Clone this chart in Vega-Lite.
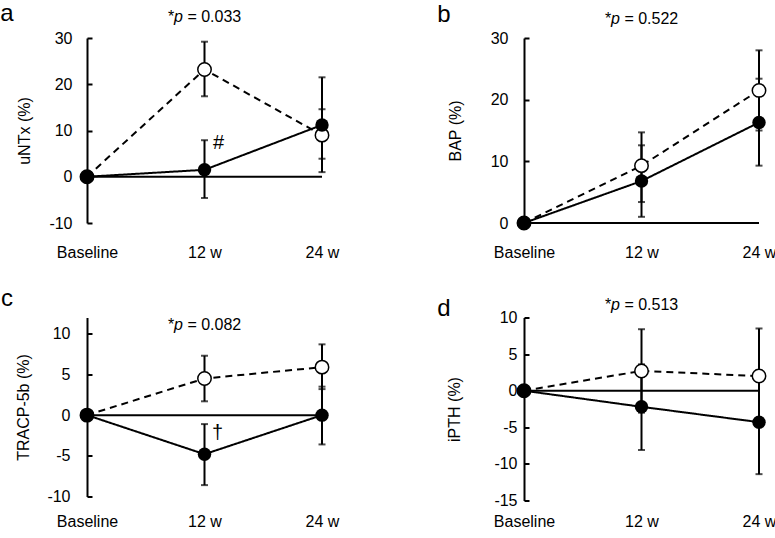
{
"$schema": "https://vega.github.io/schema/vega-lite/v6.json",
"padding": {"top": 2, "left": 0, "right": 0, "bottom": 0},
"config": {
 "font": "Liberation Sans",
 "view": {"stroke": null},
 "axis": {"grid": false, "labelOverlap": false, "labelSeparation": 0, "labelFont": "Liberation Sans", "labelFontSize": 16, "labelColor": "black", "titleFont": "Liberation Sans", "titleFontSize": 16, "titleFontWeight": "normal", "titleColor": "black"},
 "axisY": {"domainColor": "black", "domainWidth": 2, "tickColor": "black", "tickWidth": 2, "tickSize": -5, "labelOverlap": false, "labelExpr": "replace(datum.label, '\u2212', '-')"},
 "axisX": {"domain": false, "ticks": false, "labelAngle": 0},
 "text": {"font": "Liberation Sans", "fontSize": 16, "color": "black"}
},
"datasets": {
 "main": [
  {"panel":"a","group":"open","time":"Baseline","t":0,"value":0,"lo":null,"hi":null},
  {"panel":"a","group":"open","time":"12 w","t":12,"value":23.2,"lo":17.4,"hi":29.2},
  {"panel":"a","group":"open","time":"24 w","t":24,"value":9.0,"lo":3.9,"hi":14.6},
  {"panel":"a","group":"closed","time":"Baseline","t":0,"value":0,"lo":null,"hi":null},
  {"panel":"a","group":"closed","time":"12 w","t":12,"value":1.5,"lo":-4.6,"hi":7.9},
  {"panel":"a","group":"closed","time":"24 w","t":24,"value":11.2,"lo":1.0,"hi":21.5},
  {"panel":"b","group":"open","time":"Baseline","t":0,"value":0,"lo":null,"hi":null},
  {"panel":"b","group":"open","time":"12 w","t":12,"value":9.3,"lo":3.4,"hi":12.6},
  {"panel":"b","group":"open","time":"24 w","t":24,"value":21.5,"lo":15.0,"hi":28.0},
  {"panel":"b","group":"closed","time":"Baseline","t":0,"value":0,"lo":null,"hi":null},
  {"panel":"b","group":"closed","time":"12 w","t":12,"value":6.8,"lo":1.0,"hi":14.7},
  {"panel":"b","group":"closed","time":"24 w","t":24,"value":16.3,"lo":9.3,"hi":23.4},
  {"panel":"c","group":"open","time":"Baseline","t":0,"value":0,"lo":null,"hi":null},
  {"panel":"c","group":"open","time":"12 w","t":12,"value":4.5,"lo":1.7,"hi":7.3},
  {"panel":"c","group":"open","time":"24 w","t":24,"value":5.9,"lo":3.2,"hi":8.7},
  {"panel":"c","group":"closed","time":"Baseline","t":0,"value":0,"lo":null,"hi":null},
  {"panel":"c","group":"closed","time":"12 w","t":12,"value":-4.8,"lo":-8.6,"hi":-1.1},
  {"panel":"c","group":"closed","time":"24 w","t":24,"value":0,"lo":-3.6,"hi":3.5},
  {"panel":"d","group":"open","time":"Baseline","t":0,"value":0,"lo":null,"hi":null},
  {"panel":"d","group":"open","time":"12 w","t":12,"value":2.7,"lo":-3.0,"hi":8.4},
  {"panel":"d","group":"open","time":"24 w","t":24,"value":2.0,"lo":-4.5,"hi":8.5},
  {"panel":"d","group":"closed","time":"Baseline","t":0,"value":0,"lo":null,"hi":null},
  {"panel":"d","group":"closed","time":"12 w","t":12,"value":-2.2,"lo":-8.1,"hi":3.6},
  {"panel":"d","group":"closed","time":"24 w","t":24,"value":-4.3,"lo":-11.4,"hi":2.8}
 ],
 "pvals": [
  {"panel":"a","time":"12 w","y":34.5,"pre":"*","ital":"p","post":"= 0.033"},
  {"panel":"b","time":"12 w","y":33.1,"pre":"*","ital":"p","post":"= 0.522"},
  {"panel":"c","time":"12 w","y":11.1,"pre":"*","ital":"p","post":"= 0.082"},
  {"panel":"d","time":"12 w","y":11.7,"pre":"*","ital":"p","post":"= 0.513"}
 ],
 "letters": [
  {"panel":"a","time":"Baseline","y":33.6,"letter":"a"},
  {"panel":"b","time":"Baseline","y":32.65,"letter":"b"},
  {"panel":"c","time":"Baseline","y":13.45,"letter":"c"},
  {"panel":"d","time":"Baseline","y":10.2,"letter":"d"}
 ],
 "symbols": [
  {"panel":"a","time":"12 w","y":7.2,"sym":"#"},
  {"panel":"c","time":"12 w","y":-2.15,"sym":"†"}
 ]
},
"columns": 2,
"spacing": {"row": 26.5, "column": 98},
"concat": [
 {
  "width": 235, "height": 185,
  "layer": [
   {"data":{"values":[{"z":0}]},"mark":{"type":"rule","color":"black","strokeWidth":2},
    "encoding":{"y":{"field":"z","type":"quantitative","scale":{"domain":[-10,30],"nice":false,"zero":false},"axis":{"values":[-10,0,10,20,30],"labelOverlap":false,"labelPadding":20,"titlePadding":16},"title":"uNTx  (%)"}}},
   {"data":{"name":"main"},"transform":[{"filter":"datum.panel=='a' && datum.lo!=null"}],"mark":{"type":"rule","color":"black","strokeWidth":2},
    "encoding":{"x":{"field":"time","type":"ordinal","scale":{"type":"point","padding":0,"domain":["Baseline","12 w","24 w"]},"axis":{"labelPadding":21},"title":null},
     "y":{"field":"lo","type":"quantitative","axis":{"values":[-10,0,10,20,30],"labelOverlap":false,"labelPadding":20,"titlePadding":16},"title":"uNTx  (%)"},"y2":{"field":"hi"}}},
   {"data":{"name":"main"},"transform":[{"filter":"datum.panel=='a' && datum.lo!=null"}],"mark":{"type":"tick","color":"black","thickness":2,"size":7},
    "encoding":{"x":{"field":"time","type":"ordinal","title":null},"y":{"field":"lo","type":"quantitative","axis":{"values":[-10,0,10,20,30],"labelOverlap":false,"labelPadding":20,"titlePadding":16},"title":"uNTx  (%)"}}},
   {"data":{"name":"main"},"transform":[{"filter":"datum.panel=='a' && datum.lo!=null"}],"mark":{"type":"tick","color":"black","thickness":2,"size":7},
    "encoding":{"x":{"field":"time","type":"ordinal","title":null},"y":{"field":"hi","type":"quantitative","axis":{"values":[-10,0,10,20,30],"labelOverlap":false,"labelPadding":20,"titlePadding":16},"title":"uNTx  (%)"}}},
   {"data":{"name":"main"},"transform":[{"filter":"datum.panel=='a'"}],"mark":{"type":"line","color":"black","strokeWidth":2},
    "encoding":{"x":{"field":"time","type":"ordinal","title":null},"y":{"field":"value","type":"quantitative","axis":{"values":[-10,0,10,20,30],"labelOverlap":false,"labelPadding":20,"titlePadding":16},"title":"uNTx  (%)"},"detail":{"field":"group"},"order":{"field":"t"},
     "strokeDash":{"field":"group","type":"nominal","scale":{"domain":["open","closed"],"range":[[7,5],[1,0]]},"legend":null}}},
   {"data":{"name":"main"},"transform":[{"filter":"datum.panel=='a' && datum.group=='open'"}],"mark":{"type":"circle","fill":"white","stroke":"black","strokeWidth":1.5,"size":180,"opacity":1},
    "encoding":{"x":{"field":"time","type":"ordinal","title":null},"y":{"field":"value","type":"quantitative","axis":{"values":[-10,0,10,20,30],"labelOverlap":false,"labelPadding":20,"titlePadding":16},"title":"uNTx  (%)"}}},
   {"data":{"name":"main"},"transform":[{"filter":"datum.panel=='a' && datum.group=='closed'"}],"mark":{"type":"circle","fill":"black","size":180,"opacity":1},
    "encoding":{"x":{"field":"time","type":"ordinal","title":null},"y":{"field":"value","type":"quantitative","axis":{"values":[-10,0,10,20,30],"labelOverlap":false,"labelPadding":20,"titlePadding":16},"title":"uNTx  (%)"}}},
   {"data":{"name":"pvals"},"transform":[{"filter":"datum.panel=='a'"}],"mark":{"type":"text","align":"left","baseline":"middle","dx":-36.6},
    "encoding":{"x":{"field":"time","type":"ordinal","title":null},"y":{"field":"y","type":"quantitative","axis":{"values":[-10,0,10,20,30],"labelOverlap":false,"labelPadding":20,"titlePadding":16},"title":"uNTx  (%)"},"text":{"field":"pre"}}},
   {"data":{"name":"pvals"},"transform":[{"filter":"datum.panel=='a'"}],"mark":{"type":"text","align":"left","baseline":"middle","dx":-30.4,"fontStyle":"italic"},
    "encoding":{"x":{"field":"time","type":"ordinal","title":null},"y":{"field":"y","type":"quantitative","axis":{"values":[-10,0,10,20,30],"labelOverlap":false,"labelPadding":20,"titlePadding":16},"title":"uNTx  (%)"},"text":{"field":"ital"}}},
   {"data":{"name":"pvals"},"transform":[{"filter":"datum.panel=='a'"}],"mark":{"type":"text","align":"left","baseline":"middle","dx":-17.1},
    "encoding":{"x":{"field":"time","type":"ordinal","title":null},"y":{"field":"y","type":"quantitative","axis":{"values":[-10,0,10,20,30],"labelOverlap":false,"labelPadding":20,"titlePadding":16},"title":"uNTx  (%)"},"text":{"field":"post"}}},
   {"data":{"name":"letters"},"transform":[{"filter":"datum.panel=='a'"}],"mark":{"type":"text","align":"center","baseline":"alphabetic","dx":-80,"fontSize":24},
    "encoding":{"x":{"field":"time","type":"ordinal","title":null},"y":{"field":"y","type":"quantitative","axis":{"values":[-10,0,10,20,30],"labelOverlap":false,"labelPadding":20,"titlePadding":16},"title":"uNTx  (%)"},"text":{"field":"letter"}}},
   {"data":{"name":"symbols"},"transform":[{"filter":"datum.panel=='a'"}],"mark":{"type":"text","align":"center","baseline":"middle","dx":14,"fontSize":20},
    "encoding":{"x":{"field":"time","type":"ordinal","title":null},"y":{"field":"y","type":"quantitative","axis":{"values":[-10,0,10,20,30],"labelOverlap":false,"labelPadding":20,"titlePadding":16},"title":"uNTx  (%)"},"text":{"field":"sym"}}}
  ]
 },
 {
  "width": 235, "height": 185,
  "layer": [
   {"data":{"values":[{"z":0}]},"mark":{"type":"rule","color":"black","strokeWidth":2},
    "encoding":{"y":{"field":"z","type":"quantitative","scale":{"domain":[0,30],"nice":false,"zero":false},"axis":{"values":[0,10,20,30],"labelOverlap":false,"labelPadding":21,"titlePadding":27},"title":"BAP (%)"}}},
   {"data":{"name":"main"},"transform":[{"filter":"datum.panel=='b' && datum.lo!=null"}],"mark":{"type":"rule","color":"black","strokeWidth":2},
    "encoding":{"x":{"field":"time","type":"ordinal","scale":{"type":"point","padding":0,"domain":["Baseline","12 w","24 w"]},"axis":{"labelPadding":21},"title":null},
     "y":{"field":"lo","type":"quantitative","axis":{"values":[0,10,20,30],"labelOverlap":false,"labelPadding":21,"titlePadding":27},"title":"BAP (%)"},"y2":{"field":"hi"}}},
   {"data":{"name":"main"},"transform":[{"filter":"datum.panel=='b' && datum.lo!=null"}],"mark":{"type":"tick","color":"black","thickness":2,"size":7},
    "encoding":{"x":{"field":"time","type":"ordinal","title":null},"y":{"field":"lo","type":"quantitative","axis":{"values":[0,10,20,30],"labelOverlap":false,"labelPadding":21,"titlePadding":27},"title":"BAP (%)"}}},
   {"data":{"name":"main"},"transform":[{"filter":"datum.panel=='b' && datum.lo!=null"}],"mark":{"type":"tick","color":"black","thickness":2,"size":7},
    "encoding":{"x":{"field":"time","type":"ordinal","title":null},"y":{"field":"hi","type":"quantitative","axis":{"values":[0,10,20,30],"labelOverlap":false,"labelPadding":21,"titlePadding":27},"title":"BAP (%)"}}},
   {"data":{"name":"main"},"transform":[{"filter":"datum.panel=='b'"}],"mark":{"type":"line","color":"black","strokeWidth":2},
    "encoding":{"x":{"field":"time","type":"ordinal","title":null},"y":{"field":"value","type":"quantitative","axis":{"values":[0,10,20,30],"labelOverlap":false,"labelPadding":21,"titlePadding":27},"title":"BAP (%)"},"detail":{"field":"group"},"order":{"field":"t"},
     "strokeDash":{"field":"group","type":"nominal","scale":{"domain":["open","closed"],"range":[[7,5],[1,0]]},"legend":null}}},
   {"data":{"name":"main"},"transform":[{"filter":"datum.panel=='b' && datum.group=='open'"}],"mark":{"type":"circle","fill":"white","stroke":"black","strokeWidth":1.5,"size":180,"opacity":1},
    "encoding":{"x":{"field":"time","type":"ordinal","title":null},"y":{"field":"value","type":"quantitative","axis":{"values":[0,10,20,30],"labelOverlap":false,"labelPadding":21,"titlePadding":27},"title":"BAP (%)"}}},
   {"data":{"name":"main"},"transform":[{"filter":"datum.panel=='b' && datum.group=='closed'"}],"mark":{"type":"circle","fill":"black","size":180,"opacity":1},
    "encoding":{"x":{"field":"time","type":"ordinal","title":null},"y":{"field":"value","type":"quantitative","axis":{"values":[0,10,20,30],"labelOverlap":false,"labelPadding":21,"titlePadding":27},"title":"BAP (%)"}}},
   {"data":{"name":"pvals"},"transform":[{"filter":"datum.panel=='b'"}],"mark":{"type":"text","align":"left","baseline":"middle","dx":-36.6},
    "encoding":{"x":{"field":"time","type":"ordinal","title":null},"y":{"field":"y","type":"quantitative","axis":{"values":[0,10,20,30],"labelOverlap":false,"labelPadding":21,"titlePadding":27},"title":"BAP (%)"},"text":{"field":"pre"}}},
   {"data":{"name":"pvals"},"transform":[{"filter":"datum.panel=='b'"}],"mark":{"type":"text","align":"left","baseline":"middle","dx":-30.4,"fontStyle":"italic"},
    "encoding":{"x":{"field":"time","type":"ordinal","title":null},"y":{"field":"y","type":"quantitative","axis":{"values":[0,10,20,30],"labelOverlap":false,"labelPadding":21,"titlePadding":27},"title":"BAP (%)"},"text":{"field":"ital"}}},
   {"data":{"name":"pvals"},"transform":[{"filter":"datum.panel=='b'"}],"mark":{"type":"text","align":"left","baseline":"middle","dx":-17.1},
    "encoding":{"x":{"field":"time","type":"ordinal","title":null},"y":{"field":"y","type":"quantitative","axis":{"values":[0,10,20,30],"labelOverlap":false,"labelPadding":21,"titlePadding":27},"title":"BAP (%)"},"text":{"field":"post"}}},
   {"data":{"name":"letters"},"transform":[{"filter":"datum.panel=='b'"}],"mark":{"type":"text","align":"center","baseline":"alphabetic","dx":-80,"fontSize":24},
    "encoding":{"x":{"field":"time","type":"ordinal","title":null},"y":{"field":"y","type":"quantitative","axis":{"values":[0,10,20,30],"labelOverlap":false,"labelPadding":21,"titlePadding":27},"title":"BAP (%)"},"text":{"field":"letter"}}}
  ]
 },
 {
  "width": 235, "height": 179,
  "layer": [
   {"data":{"values":[{"z":0}]},"mark":{"type":"rule","color":"black","strokeWidth":2},
    "encoding":{"y":{"field":"z","type":"quantitative","scale":{"domain":[-10,12],"nice":false,"zero":false},"axis":{"values":[-10,-5,0,5,10],"labelOverlap":false,"labelPadding":22,"titlePadding":15},"title":"TRACP-5b (%)"}}},
   {"data":{"name":"main"},"transform":[{"filter":"datum.panel=='c' && datum.lo!=null"}],"mark":{"type":"rule","color":"black","strokeWidth":2},
    "encoding":{"x":{"field":"time","type":"ordinal","scale":{"type":"point","padding":0,"domain":["Baseline","12 w","24 w"]},"axis":{"labelPadding":17},"title":null},
     "y":{"field":"lo","type":"quantitative","axis":{"values":[-10,-5,0,5,10],"labelOverlap":false,"labelPadding":22,"titlePadding":15},"title":"TRACP-5b (%)"},"y2":{"field":"hi"}}},
   {"data":{"name":"main"},"transform":[{"filter":"datum.panel=='c' && datum.lo!=null"}],"mark":{"type":"tick","color":"black","thickness":2,"size":7},
    "encoding":{"x":{"field":"time","type":"ordinal","title":null},"y":{"field":"lo","type":"quantitative","axis":{"values":[-10,-5,0,5,10],"labelOverlap":false,"labelPadding":22,"titlePadding":15},"title":"TRACP-5b (%)"}}},
   {"data":{"name":"main"},"transform":[{"filter":"datum.panel=='c' && datum.lo!=null"}],"mark":{"type":"tick","color":"black","thickness":2,"size":7},
    "encoding":{"x":{"field":"time","type":"ordinal","title":null},"y":{"field":"hi","type":"quantitative","axis":{"values":[-10,-5,0,5,10],"labelOverlap":false,"labelPadding":22,"titlePadding":15},"title":"TRACP-5b (%)"}}},
   {"data":{"name":"main"},"transform":[{"filter":"datum.panel=='c'"}],"mark":{"type":"line","color":"black","strokeWidth":2},
    "encoding":{"x":{"field":"time","type":"ordinal","title":null},"y":{"field":"value","type":"quantitative","axis":{"values":[-10,-5,0,5,10],"labelOverlap":false,"labelPadding":22,"titlePadding":15},"title":"TRACP-5b (%)"},"detail":{"field":"group"},"order":{"field":"t"},
     "strokeDash":{"field":"group","type":"nominal","scale":{"domain":["open","closed"],"range":[[7,5],[1,0]]},"legend":null}}},
   {"data":{"name":"main"},"transform":[{"filter":"datum.panel=='c' && datum.group=='open'"}],"mark":{"type":"circle","fill":"white","stroke":"black","strokeWidth":1.5,"size":180,"opacity":1},
    "encoding":{"x":{"field":"time","type":"ordinal","title":null},"y":{"field":"value","type":"quantitative","axis":{"values":[-10,-5,0,5,10],"labelOverlap":false,"labelPadding":22,"titlePadding":15},"title":"TRACP-5b (%)"}}},
   {"data":{"name":"main"},"transform":[{"filter":"datum.panel=='c' && datum.group=='closed'"}],"mark":{"type":"circle","fill":"black","size":180,"opacity":1},
    "encoding":{"x":{"field":"time","type":"ordinal","title":null},"y":{"field":"value","type":"quantitative","axis":{"values":[-10,-5,0,5,10],"labelOverlap":false,"labelPadding":22,"titlePadding":15},"title":"TRACP-5b (%)"}}},
   {"data":{"name":"pvals"},"transform":[{"filter":"datum.panel=='c'"}],"mark":{"type":"text","align":"left","baseline":"middle","dx":-36.6},
    "encoding":{"x":{"field":"time","type":"ordinal","title":null},"y":{"field":"y","type":"quantitative","axis":{"values":[-10,-5,0,5,10],"labelOverlap":false,"labelPadding":22,"titlePadding":15},"title":"TRACP-5b (%)"},"text":{"field":"pre"}}},
   {"data":{"name":"pvals"},"transform":[{"filter":"datum.panel=='c'"}],"mark":{"type":"text","align":"left","baseline":"middle","dx":-30.4,"fontStyle":"italic"},
    "encoding":{"x":{"field":"time","type":"ordinal","title":null},"y":{"field":"y","type":"quantitative","axis":{"values":[-10,-5,0,5,10],"labelOverlap":false,"labelPadding":22,"titlePadding":15},"title":"TRACP-5b (%)"},"text":{"field":"ital"}}},
   {"data":{"name":"pvals"},"transform":[{"filter":"datum.panel=='c'"}],"mark":{"type":"text","align":"left","baseline":"middle","dx":-17.1},
    "encoding":{"x":{"field":"time","type":"ordinal","title":null},"y":{"field":"y","type":"quantitative","axis":{"values":[-10,-5,0,5,10],"labelOverlap":false,"labelPadding":22,"titlePadding":15},"title":"TRACP-5b (%)"},"text":{"field":"post"}}},
   {"data":{"name":"letters"},"transform":[{"filter":"datum.panel=='c'"}],"mark":{"type":"text","align":"center","baseline":"alphabetic","dx":-80,"fontSize":24},
    "encoding":{"x":{"field":"time","type":"ordinal","title":null},"y":{"field":"y","type":"quantitative","axis":{"values":[-10,-5,0,5,10],"labelOverlap":false,"labelPadding":22,"titlePadding":15},"title":"TRACP-5b (%)"},"text":{"field":"letter"}}},
   {"data":{"name":"symbols"},"transform":[{"filter":"datum.panel=='c'"}],"mark":{"type":"text","align":"center","baseline":"middle","dx":13,"fontSize":20},
    "encoding":{"x":{"field":"time","type":"ordinal","title":null},"y":{"field":"y","type":"quantitative","axis":{"values":[-10,-5,0,5,10],"labelOverlap":false,"labelPadding":22,"titlePadding":15},"title":"TRACP-5b (%)"},"text":{"field":"sym"}}}
  ]
 },
 {
  "width": 235, "height": 183,
  "layer": [
   {"data":{"values":[{"z":0}]},"mark":{"type":"rule","color":"black","strokeWidth":2},
    "encoding":{"y":{"field":"z","type":"quantitative","scale":{"domain":[-15,10],"nice":false,"zero":false},"axis":{"values":[-15,-10,-5,0,5,10],"labelOverlap":false,"labelPadding":12,"titlePadding":31},"title":"iPTH (%)"}}},
   {"data":{"name":"main"},"transform":[{"filter":"datum.panel=='d' && datum.lo!=null"}],"mark":{"type":"rule","color":"black","strokeWidth":2},
    "encoding":{"x":{"field":"time","type":"ordinal","scale":{"type":"point","padding":0,"domain":["Baseline","12 w","24 w"]},"axis":{"labelPadding":13},"title":null},
     "y":{"field":"lo","type":"quantitative","axis":{"values":[-15,-10,-5,0,5,10],"labelOverlap":false,"labelPadding":12,"titlePadding":31},"title":"iPTH (%)"},"y2":{"field":"hi"}}},
   {"data":{"name":"main"},"transform":[{"filter":"datum.panel=='d' && datum.lo!=null"}],"mark":{"type":"tick","color":"black","thickness":2,"size":7},
    "encoding":{"x":{"field":"time","type":"ordinal","title":null},"y":{"field":"lo","type":"quantitative","axis":{"values":[-15,-10,-5,0,5,10],"labelOverlap":false,"labelPadding":12,"titlePadding":31},"title":"iPTH (%)"}}},
   {"data":{"name":"main"},"transform":[{"filter":"datum.panel=='d' && datum.lo!=null"}],"mark":{"type":"tick","color":"black","thickness":2,"size":7},
    "encoding":{"x":{"field":"time","type":"ordinal","title":null},"y":{"field":"hi","type":"quantitative","axis":{"values":[-15,-10,-5,0,5,10],"labelOverlap":false,"labelPadding":12,"titlePadding":31},"title":"iPTH (%)"}}},
   {"data":{"name":"main"},"transform":[{"filter":"datum.panel=='d'"}],"mark":{"type":"line","color":"black","strokeWidth":2},
    "encoding":{"x":{"field":"time","type":"ordinal","title":null},"y":{"field":"value","type":"quantitative","axis":{"values":[-15,-10,-5,0,5,10],"labelOverlap":false,"labelPadding":12,"titlePadding":31},"title":"iPTH (%)"},"detail":{"field":"group"},"order":{"field":"t"},
     "strokeDash":{"field":"group","type":"nominal","scale":{"domain":["open","closed"],"range":[[7,5],[1,0]]},"legend":null}}},
   {"data":{"name":"main"},"transform":[{"filter":"datum.panel=='d' && datum.group=='open'"}],"mark":{"type":"circle","fill":"white","stroke":"black","strokeWidth":1.5,"size":180,"opacity":1},
    "encoding":{"x":{"field":"time","type":"ordinal","title":null},"y":{"field":"value","type":"quantitative","axis":{"values":[-15,-10,-5,0,5,10],"labelOverlap":false,"labelPadding":12,"titlePadding":31},"title":"iPTH (%)"}}},
   {"data":{"name":"main"},"transform":[{"filter":"datum.panel=='d' && datum.group=='closed'"}],"mark":{"type":"circle","fill":"black","size":180,"opacity":1},
    "encoding":{"x":{"field":"time","type":"ordinal","title":null},"y":{"field":"value","type":"quantitative","axis":{"values":[-15,-10,-5,0,5,10],"labelOverlap":false,"labelPadding":12,"titlePadding":31},"title":"iPTH (%)"}}},
   {"data":{"name":"pvals"},"transform":[{"filter":"datum.panel=='d'"}],"mark":{"type":"text","align":"left","baseline":"middle","dx":-36.6},
    "encoding":{"x":{"field":"time","type":"ordinal","title":null},"y":{"field":"y","type":"quantitative","axis":{"values":[-15,-10,-5,0,5,10],"labelOverlap":false,"labelPadding":12,"titlePadding":31},"title":"iPTH (%)"},"text":{"field":"pre"}}},
   {"data":{"name":"pvals"},"transform":[{"filter":"datum.panel=='d'"}],"mark":{"type":"text","align":"left","baseline":"middle","dx":-30.4,"fontStyle":"italic"},
    "encoding":{"x":{"field":"time","type":"ordinal","title":null},"y":{"field":"y","type":"quantitative","axis":{"values":[-15,-10,-5,0,5,10],"labelOverlap":false,"labelPadding":12,"titlePadding":31},"title":"iPTH (%)"},"text":{"field":"ital"}}},
   {"data":{"name":"pvals"},"transform":[{"filter":"datum.panel=='d'"}],"mark":{"type":"text","align":"left","baseline":"middle","dx":-17.1},
    "encoding":{"x":{"field":"time","type":"ordinal","title":null},"y":{"field":"y","type":"quantitative","axis":{"values":[-15,-10,-5,0,5,10],"labelOverlap":false,"labelPadding":12,"titlePadding":31},"title":"iPTH (%)"},"text":{"field":"post"}}},
   {"data":{"name":"letters"},"transform":[{"filter":"datum.panel=='d'"}],"mark":{"type":"text","align":"center","baseline":"alphabetic","dx":-80,"fontSize":24},
    "encoding":{"x":{"field":"time","type":"ordinal","title":null},"y":{"field":"y","type":"quantitative","axis":{"values":[-15,-10,-5,0,5,10],"labelOverlap":false,"labelPadding":12,"titlePadding":31},"title":"iPTH (%)"},"text":{"field":"letter"}}}
  ]
 }
]
}
